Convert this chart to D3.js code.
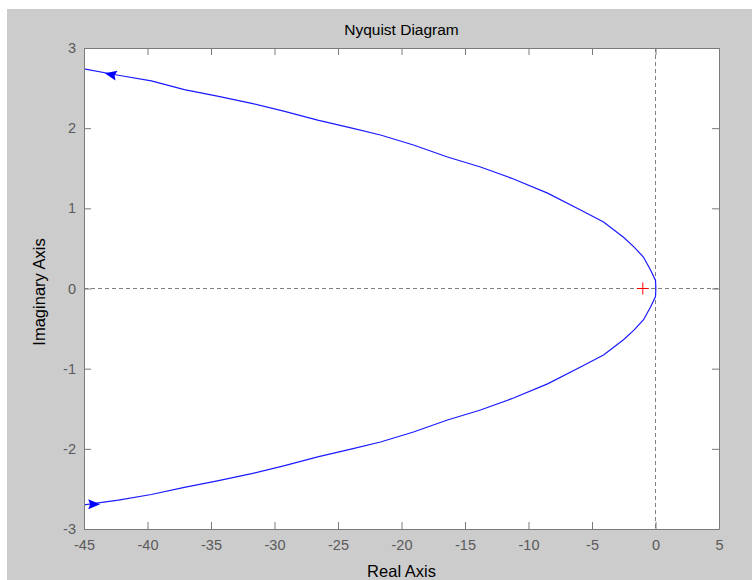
<!DOCTYPE html>
<html>
<head>
<meta charset="utf-8">
<script src="https://cdn.jsdelivr.net/npm/d3@7"></script>
<style>
  body { margin: 0; background: #ffffff; }
  svg { display: block; }
</style>
</head>
<body>
<div id="chart"></div>
<script>
// tick values for the two axes
var realTicks = [-45, -40, -35, -30, -25, -20, -15, -10, -5, 0, 5];
var imagTicks = [-3, -2, -1, 0, 1, 2, 3];

// upper branch of the Nyquist curve, from the origin out to the left
var upperRe = [0.03, 0.0, -0.39, -0.94, -1.7, -2.52, -4.09, -5.9, -8.5, -11.18, -13.78, -16.38, -19.06, -21.65, -23.9, -26.6, -29.2, -31.8, -34.5, -37.1, -39.7, -42.3, -45.0];
var upperIm = [0.0, 0.1, 0.23, 0.39, 0.52, 0.64, 0.83, 0.98, 1.19, 1.366, 1.515, 1.64, 1.79, 1.915, 2.0, 2.10, 2.21, 2.31, 2.40, 2.48, 2.59, 2.66, 2.74];

// lower branch, same order
var lowerRe = [0.03, 0.0, -0.39, -0.94, -1.7, -2.52, -4.09, -5.9, -8.5, -11.18, -13.78, -16.38, -19.06, -21.65, -23.9, -26.6, -29.2, -31.8, -34.5, -37.1, -39.7, -42.3, -45.0];
var lowerIm = [0.0, -0.1, -0.23, -0.39, -0.52, -0.64, -0.83, -0.98, -1.19, -1.366, -1.515, -1.64, -1.79, -1.915, -2.0, -2.10, -2.21, -2.31, -2.40, -2.48, -2.57, -2.64, -2.70];

// arrow markers: position and which way they point (-1 = left, 1 = right)
var arrowRe = [-42.9, -44.2];
var arrowIm = [2.67, -2.69];
var arrowDir = [-1, 1];

// critical point
var critRe = -1;
var critIm = 0;

var width = 752;
var height = 580;
// plot box in pixels (note: "top" is a reserved window property, so use other names)
var plotLeft = 84, plotRight = 719, plotTop = 48, plotBottom = 529;

var svg = d3.select('#chart').append('svg')
      .attr('width', width)
      .attr('height', height)
      .style('font-family', '"Liberation Sans", Arial, sans-serif');

// grey figure background with the thin white strip top and left
svg.append('rect')
      .attr('x', 7).attr('y', 9)
      .attr('width', width - 7).attr('height', height - 9)
      .attr('fill', '#cccccc');

var xScale = d3.scaleLinear().domain([-45, 5]).range([plotLeft, plotRight]);
var yScale = d3.scaleLinear().domain([-3, 3]).range([plotBottom, plotTop]);

// white plot area
svg.append('rect')
      .attr('x', plotLeft).attr('y', plotTop)
      .attr('width', plotRight - plotLeft).attr('height', plotBottom - plotTop)
      .attr('fill', '#ffffff');

svg.append('clipPath').attr('id', 'plotClip')
      .append('rect')
      .attr('x', plotLeft).attr('y', plotTop)
      .attr('width', plotRight - plotLeft).attr('height', plotBottom - plotTop);

var plot = svg.append('g').attr('clip-path', 'url(#plotClip)');

// dashed zero lines
plot.append('line')
      .attr('x1', plotLeft).attr('x2', plotRight)
      .attr('y1', yScale(0)).attr('y2', yScale(0))
      .attr('stroke', '#808080').attr('stroke-dasharray', '4,3');
plot.append('line')
      .attr('x1', xScale(0)).attr('x2', xScale(0))
      .attr('y1', plotTop).attr('y2', plotBottom)
      .attr('stroke', '#808080').attr('stroke-dasharray', '4,3');

// the curve
var line = d3.line()
      .x(d => xScale(d[0]))
      .y(d => yScale(d[1]));

var upper = d3.zip(upperRe, upperIm);
var lower = d3.zip(lowerRe, lowerIm);

plot.selectAll('path.branch')
      .data([upper, lower])
      .enter()
      .append('path')
      .attr('class', 'branch')
      .attr('d', line)
      .attr('fill', 'none')
      .attr('stroke', '#1a1aff')
      .attr('stroke-width', 1.2);

// arrow heads
plot.selectAll('path.arrow')
      .data(d3.range(arrowRe.length))
      .enter()
      .append('path')
      .attr('class', 'arrow')
      .attr('d', 'M-6,0 L6,-5 L4,0 L6,5 Z')
      .attr('transform', i => 'translate(' + xScale(arrowRe[i]) + ',' + yScale(arrowIm[i]) + ')'
            + (arrowDir[i] > 0 ? ' rotate(180)' : ' rotate(12)'))
      .attr('fill', '#0000ff');

// red cross at -1
plot.append('path')
      .attr('d', 'M' + (xScale(critRe) - 6) + ',' + yScale(critIm) + 'h12'
            + 'M' + xScale(critRe) + ',' + (yScale(critIm) - 6) + 'v12')
      .attr('stroke', '#ff0000')
      .attr('stroke-width', 1)
      .attr('fill', 'none');

// axes with inward ticks on all four sides
var axisColor = '#7a7a7a';
var labelColor = '#5a5a5a';
var formatTick = d3.format('d');

function styleAxis (g) {
      g.select('.domain').attr('stroke', axisColor);
      g.selectAll('.tick line').attr('stroke', axisColor);
      g.selectAll('.tick text')
            .attr('fill', labelColor)
            .style('font-size', '14.5px')
            .style('font-family', '"Liberation Sans", Arial, sans-serif');
}

svg.append('g')
      .attr('transform', 'translate(0,' + plotBottom + ')')
      .call(d3.axisBottom(xScale).tickValues(realTicks).tickFormat(formatTick).tickSizeInner(-7).tickSizeOuter(0).tickPadding(11))
      .call(styleAxis);

svg.append('g')
      .attr('transform', 'translate(0,' + plotTop + ')')
      .call(d3.axisTop(xScale).tickValues(realTicks).tickSizeInner(-7).tickSizeOuter(0).tickFormat(''))
      .call(styleAxis);

svg.append('g')
      .attr('transform', 'translate(' + plotLeft + ',0)')
      .call(d3.axisLeft(yScale).tickValues(imagTicks).tickFormat(formatTick).tickSizeInner(-7).tickSizeOuter(0).tickPadding(8))
      .call(styleAxis);

svg.append('g')
      .attr('transform', 'translate(' + plotRight + ',0)')
      .call(d3.axisRight(yScale).tickValues(imagTicks).tickSizeInner(-7).tickSizeOuter(0).tickFormat(''))
      .call(styleAxis);

// use a plain hyphen like the original labels
svg.selectAll('.tick text').text(function () { return this.textContent.replace('−', '-'); });

// title and axis labels
svg.append('text')
      .attr('x', (plotLeft + plotRight) / 2)
      .attr('y', 34.5)
      .attr('text-anchor', 'middle')
      .style('font-size', '15.5px')
      .attr('fill', '#000000')
      .text('Nyquist Diagram');

svg.append('text')
      .attr('x', (plotLeft + plotRight) / 2)
      .attr('y', 577)
      .attr('text-anchor', 'middle')
      .style('font-size', '16.5px')
      .attr('fill', '#000000')
      .text('Real Axis');

svg.append('text')
      .attr('transform', 'rotate(-90)')
      .attr('x', -292)
      .attr('y', 45)
      .attr('text-anchor', 'middle')
      .style('font-size', '16.5px')
      .attr('fill', '#000000')
      .text('Imaginary Axis');
</script>
</body>
</html>
